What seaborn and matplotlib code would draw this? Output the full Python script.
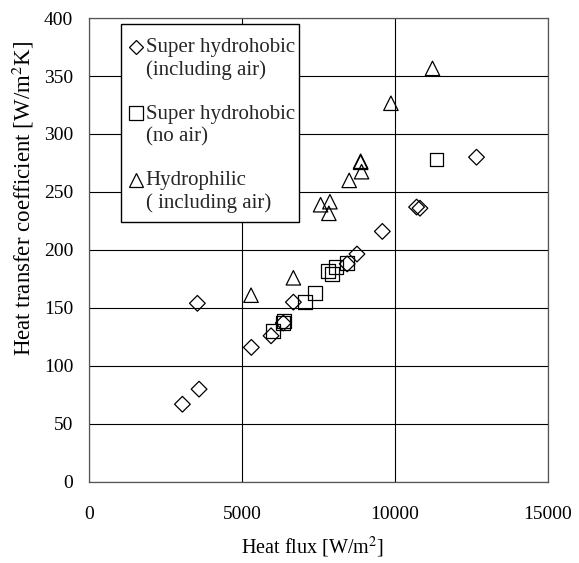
import matplotlib
matplotlib.use("Agg")
import matplotlib.pyplot as plt
from matplotlib.lines import Line2D
from matplotlib.patches import Rectangle
from matplotlib.legend_handler import HandlerLine2D
import seaborn as sns
import pandas as pd

# Super hydrophobic (including air)
sh_air_x = [3050, 3540, 3595, 5305, 5950, 6350, 6680, 8440, 8760, 9590, 10710, 10820, 12670]
sh_air_y = [67, 154, 80, 116, 126, 137, 155, 188, 196.5, 216, 237, 236, 280]
# Super hydrophobic (no air)
sh_noair_x = [6000, 6385, 6350, 7060, 7375, 7820, 7930, 8070, 8420, 11360]
sh_noair_y = [130, 139, 137, 155, 163, 182, 179, 185.6, 188.5, 278]
# Hydrophilic (including air)
hp_x = [5295, 6680, 7570, 7875, 7840, 8505, 8880, 8880, 8910, 9870, 11230]
hp_y = [161, 176, 239, 241.6, 231.6, 260, 275.6, 276.5, 267.5, 326.5, 356.6]

labels = ["Super hydrohobic\n(including air)",
          "Super hydrohobic\n(no air)",
          "Hydrophilic\n( including air)"]
x_ticks = [0, 5000, 10000, 15000]
y_ticks = [0, 50, 100, 150, 200, 250, 300, 350, 400]

sns.set_theme(style="white")
plt.rcParams['font.family'] = ['Liberation Serif', 'DejaVu Serif']
plt.rcParams['mathtext.fontset'] = 'stix'

fig = plt.figure(figsize=(5.79, 5.63), dpi=100)
ax = fig.add_axes([0.154, 0.144, 0.792, 0.824])

df = pd.concat([
    pd.DataFrame({"x": sh_air_x, "y": sh_air_y, "s": labels[0]}),
    pd.DataFrame({"x": sh_noair_x, "y": sh_noair_y, "s": labels[1]}),
    pd.DataFrame({"x": hp_x, "y": hp_y, "s": labels[2]}),
])
markers = {labels[0]: "D", labels[1]: "s", labels[2]: "^"}
sizes = {labels[0]: 64, labels[1]: 100, labels[2]: 108}
for lab in labels:
    sub = df[df["s"] == lab]
    sns.scatterplot(data=sub, x="x", y="y", marker=markers[lab], s=sizes[lab],
                    facecolors="none", edgecolor="black", linewidth=0.9,
                    ax=ax, legend=False, zorder=3)
for coll in ax.collections:
    coll.set_facecolor("none")
    coll.set_edgecolor("black")

ax.set_xlim(0, 15000)
ax.set_ylim(0, 400)
ax.set_xticks(x_ticks)
ax.set_yticks(y_ticks)
ax.set_xticklabels([str(t) for t in x_ticks])
ax.set_yticklabels([str(t) for t in y_ticks])
ax.tick_params(axis="both", length=0, labelsize=14, colors="black")
ax.tick_params(axis="x", pad=17)
ax.tick_params(axis="y", pad=11.5)
ax.grid(True, color="black", linewidth=0.8)
ax.set_axisbelow(True)
for sp in ax.spines.values():
    sp.set_color("#555555")
    sp.set_linewidth(0.9)

ax.set_xlabel("Heat flux [W/m$^2$]", fontsize=14.5, color="black", va="center")
ax.xaxis.set_label_coords(0.487, -0.142)
ax.set_ylabel("Heat transfer coefficient [W/m$^2$K]", fontsize=16.5, color="black",
              va="center")
ax.yaxis.set_label_coords(-0.144, 0.612)

# legend frame
ax.add_patch(Rectangle((0.0697, 0.560), 0.3878, 0.427, transform=ax.transAxes,
                       facecolor="white", edgecolor="black", linewidth=1.0, zorder=4))


class UpHandler(HandlerLine2D):
    def create_artists(self, legend, orig_handle, xdescent, ydescent,
                       width, height, fontsize, trans):
        arts = super().create_artists(legend, orig_handle, xdescent, ydescent,
                                      width, height, fontsize, trans)
        for a in arts:
            a.set_ydata([y + fontsize * 0.58 for y in a.get_ydata()])
        return arts


handles = [Line2D([], [], linestyle="none", marker=markers[l], markersize=ms,
                  markerfacecolor="none", markeredgecolor="black", markeredgewidth=0.9)
           for l, ms in zip(labels, [7.5, 10, 9.4])]
leg = ax.legend(handles, labels, loc="upper left", bbox_to_anchor=(0.089, 0.957),
                frameon=False, fontsize=15, handlelength=0.6, handletextpad=0.15,
                labelspacing=1.17, borderpad=0, borderaxespad=0,
                handler_map={Line2D: UpHandler()})
leg.set_zorder(5)
for t in leg.get_texts():
    t.set_linespacing(1.25)

fig.savefig("out.png", dpi=100, facecolor="white")
